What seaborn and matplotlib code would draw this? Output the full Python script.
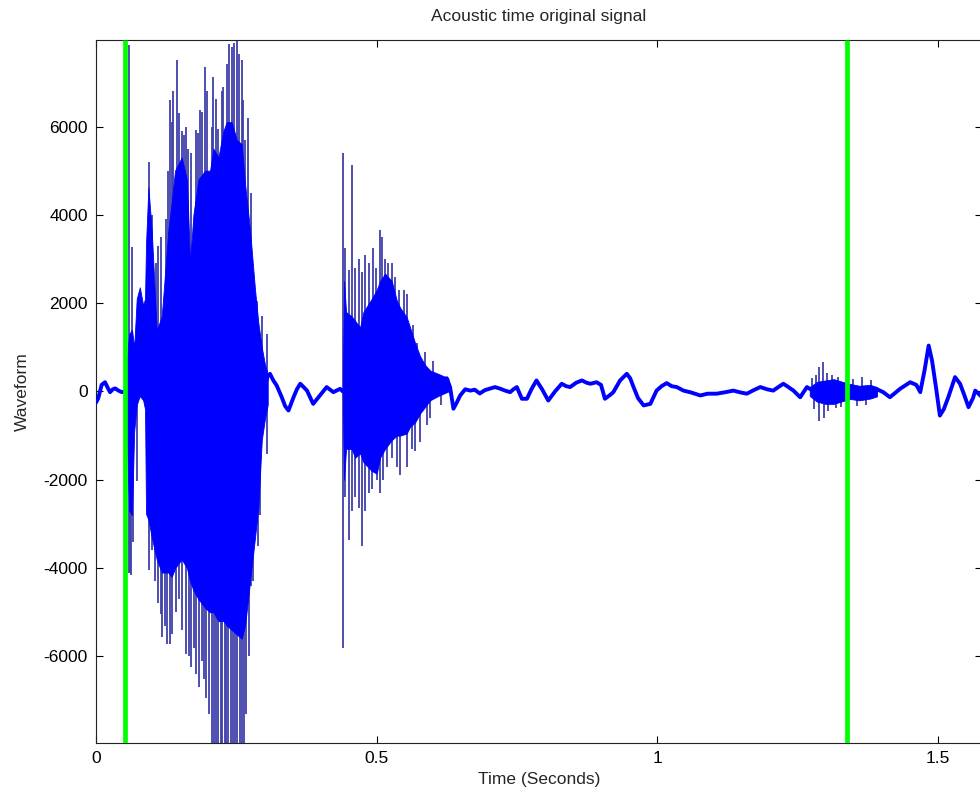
import numpy as np
import pandas as pd
import matplotlib
matplotlib.use("Agg")
import matplotlib.pyplot as plt
import seaborn as sns

# ---- low-amplitude waveform trace (seconds, amplitude) ----
trace_t = [0.000, 0.004, 0.010, 0.016, 0.021, 0.025, 0.030, 0.034, 0.040, 0.046, 0.051,
           0.100, 0.200, 0.300, 0.306, 0.310, 0.316, 0.322, 0.331, 0.337, 0.343, 0.352,
           0.358, 0.364, 0.370, 0.376, 0.387, 0.399, 0.411, 0.423, 0.435, 0.440,
           0.500, 0.600, 0.615, 0.625, 0.631, 0.637, 0.643, 0.649, 0.658, 0.667, 0.675,
           0.684, 0.693, 0.702, 0.711, 0.720, 0.729, 0.738, 0.744, 0.750, 0.759, 0.768,
           0.776, 0.785, 0.795, 0.806, 0.818, 0.830, 0.838, 0.845, 0.856, 0.866, 0.874,
           0.881, 0.892, 0.900, 0.907, 0.916, 0.922, 0.934, 0.946, 0.952, 0.958, 0.966,
           0.976, 0.988, 0.999, 1.008, 1.017, 1.026, 1.035, 1.047, 1.060, 1.077, 1.090,
           1.106, 1.120, 1.136, 1.148, 1.160, 1.172, 1.184, 1.196, 1.207, 1.216, 1.225,
           1.234, 1.243, 1.255, 1.267, 1.280, 1.300, 1.320, 1.340, 1.360, 1.380, 1.392,
           1.403, 1.415, 1.433, 1.451, 1.462, 1.469, 1.477, 1.484, 1.490, 1.497, 1.504,
           1.511, 1.519, 1.531, 1.540, 1.548, 1.555, 1.563, 1.567, 1.576, 1.580]
trace_v = [-250, -150, 150, 210, 80, -15, 50, 70, 20, -15, 0,
           0, 0, 100, 350, 400, 250, 135, -130, -330, -430, -130,
           50, 175, 100, 20, -280, -90, 100, -15, 60, 0,
           200, 200, 250, 300, 100, -390, -250, -90, 50, 20, 40,
           -45, 30, 65, 100, 65, 20, -15, 50, 100, -165, -165,
           50, 250, 50, -205, 0, 175, 120, 100, 200, 250, 200,
           175, 210, 150, -165, -80, -15, 250, 400, 300, 100, -150,
           -315, -280, 20, 120, 190, 120, 100, 20, -20, -90, -50,
           -50, -20, 20, -20, -50, 30, 100, 50, 20, 100, 175,
           100, 20, -130, 100, 0, -20, 30, 0, -30, 0, 50,
           -15, -130, 60, 210, 150, -15, 500, 1040, 700, 100, -545,
           -400, -130, 325, 175, -100, -355, -150, 20, -90, -150]

# ---- dense vowel bursts: upper / lower extent of the solid core ----
burst1_t = [0.0515, 0.053, 0.056, 0.059, 0.064, 0.068, 0.0725, 0.078, 0.084, 0.0873,
            0.0891, 0.0933, 0.0992, 0.1081, 0.1171, 0.1289, 0.1349, 0.1408, 0.1527,
            0.1620, 0.1676, 0.1735, 0.1824, 0.1943, 0.2032, 0.2092, 0.2181, 0.2270,
            0.2329, 0.2418, 0.2507, 0.2597, 0.2656, 0.2745, 0.2834, 0.2894, 0.2954,
            0.3012, 0.3060]
burst1_hi = [0, 300, 900, 1300, 1400, 1000, 2100, 2360, 1950, 2100,
             3350, 4620, 3650, 1380, 1700, 3650, 4300, 5000, 5300,
             4800, 2900, 4000, 4800, 5000, 5000, 5500, 5300, 5900,
             6100, 6100, 5700, 5600, 4700, 3650, 2300, 1540, 1000,
             600, 400]
burst1_lo = [0, -300, -1500, -2700, -2800, -900, -300, -100, -200, -400,
             -2770, -2900, -3300, -3800, -4100, -4100, -4200, -4000, -3800,
             -4000, -4300, -4500, -4700, -4900, -5000, -5000, -5200, -5200,
             -5300, -5400, -5500, -5600, -5300, -4300, -3300, -2600, -1100,
             -600, -300]

burst2_t = [0.4397, 0.4420, 0.4456, 0.4557, 0.4617, 0.4706, 0.4765, 0.4914, 0.5003,
            0.5062, 0.5152, 0.5271, 0.5360, 0.5419, 0.5538, 0.5597, 0.5686, 0.5775,
            0.5865, 0.5954, 0.6100, 0.6280]
burst2_hi = [0, 2500, 1800, 1700, 1600, 1450, 1800, 2100, 2300,
             2500, 2670, 2500, 2060, 1900, 1680, 1450, 1100, 800,
             600, 475, 400, 300]
burst2_lo = [0, -2000, -1300, -1300, -1500, -1400, -1600, -1800, -1860,
             -1500, -1300, -1100, -1000, -1000, -950, -800, -700, -500,
             -350, -200, -100, 0]

burst3_t = [1.272, 1.285, 1.300, 1.315, 1.330, 1.345, 1.360, 1.380, 1.392]
burst3_hi = [100, 220, 250, 280, 220, 170, 130, 150, 100]
burst3_lo = [-100, -230, -280, -280, -220, -170, -200, -160, -110]

# ---- isolated peaks above and below the core ----
peak_up_t = [0.0594, 0.0640, 0.0945, 0.1000, 0.1060, 0.1110, 0.1150, 0.1240, 0.1290,
             0.1320, 0.1349, 0.1380, 0.1450, 0.1486, 0.1527, 0.1560, 0.1600, 0.1640,
             0.1700, 0.1783, 0.1824, 0.1854, 0.1895, 0.1943, 0.1985, 0.2060, 0.2092,
             0.2139, 0.2181, 0.2240, 0.2270, 0.2329, 0.2377, 0.2418, 0.2460, 0.2507,
             0.2549, 0.2597, 0.2627, 0.2656, 0.2716, 0.2763, 0.2864, 0.2954, 0.3043,
             0.4397, 0.4439, 0.4516, 0.4557, 0.4617, 0.4680, 0.4736, 0.4800, 0.4870,
             0.4944, 0.4990, 0.5062, 0.5100, 0.5152, 0.5210, 0.5271, 0.5330, 0.5400,
             0.5480, 0.5538, 0.5656, 0.5720, 0.5865, 0.6000,
             1.276, 1.283, 1.288, 1.295, 1.303, 1.312, 1.322, 1.350, 1.366, 1.381]
peak_up_v = [7840, 3270, 5190, 4000, 2900, 3300, 3490, 3900, 5000,
             6590, 6100, 6800, 7500, 6300, 5900, 5800, 6000, 5500,
             5400, 5910, 5850, 6370, 6320, 7350, 6800, 6000, 7120,
             6620, 5950, 6800, 6900, 7420, 7870, 7800, 7900, 7950,
             7650, 7500, 6600, 5700, 6200, 4500, 2060, 1700, 1310,
             5390, 3260, 2740, 5120, 2800, 3000, 2700, 3100, 2900,
             3260, 2800, 3650, 3500, 3000, 2900, 2900, 2600, 2300,
             2300, 2200, 1500, 1100, 900, 700,
             300, 380, 550, 660, 420, 380, 330, 280, 320, 260]

peak_dn_t = [0.0594, 0.0600, 0.0630, 0.0660, 0.0725, 0.0945, 0.1000, 0.1050, 0.1110,
             0.1150, 0.1171, 0.1230, 0.1260, 0.1320, 0.1350, 0.1420, 0.1480, 0.1530,
             0.1600, 0.1650, 0.1700, 0.1750, 0.1790, 0.1830, 0.1880, 0.1920, 0.1960,
             0.2010, 0.2060, 0.2100, 0.2140, 0.2180, 0.2220, 0.2250, 0.2290, 0.2320,
             0.2360, 0.2400, 0.2440, 0.2480, 0.2520, 0.2560, 0.2600, 0.2630, 0.2680,
             0.2720, 0.2760, 0.2800, 0.2880, 0.2930, 0.3043,
             0.4397, 0.4439, 0.4516, 0.4557, 0.4617, 0.4680, 0.4736, 0.4800, 0.4870,
             0.4914, 0.5003, 0.5070, 0.5122, 0.5190, 0.5271, 0.5360, 0.5419, 0.5538,
             0.5627, 0.5686, 0.5775, 0.5894, 0.5954, 0.6150,
             1.280, 1.288, 1.297, 1.305, 1.318, 1.328, 1.356, 1.372]
peak_dn_v = [-4120, -4120, -4150, -3400, -2020, -4050, -3600, -4300, -4800,
             -5030, -5570, -5300, -5710, -5710, -5500, -5000, -4700, -5400,
             -5940, -6000, -6250, -5800, -6400, -6700, -6100, -6500, -6930,
             -7300, -7970, -7970, -7970, -7970, -7970, -7970, -7970, -7970,
             -7970, -7970, -7970, -7970, -7970, -7970, -7970, -7970, -7300,
             -6000, -4400, -4300, -3500, -2800, -1410,
             -5800, -2400, -3370, -2700, -2400, -2630, -3490, -2700, -2300,
             -2200, -2000, -2300, -2000, -1700, -1500, -1700, -1900, -1700,
             -1300, -1350, -1150, -750, -600, -300,
             -400, -660, -590, -450, -380, -350, -330, -300]

# ---- segment boundary markers (seconds) ----
marker_t = [0.051, 1.339]

# ---- axes ----
x_ticks = [0, 0.5, 1, 1.5]
x_tick_labels = ["0", "0.5", "1", "1.5"]
y_ticks = [-6000, -4000, -2000, 0, 2000, 4000, 6000]
y_tick_labels = ["-6000", "-4000", "-2000", "0", "2000", "4000", "6000"]
x_range = (0, 1.579)
y_range = (-7960, 7960)

sns.set_style("ticks")
plt.rcParams["font.family"] = ["Liberation Sans", "DejaVu Sans"]

WAVE = "#0000ff"

fig = plt.figure(figsize=(9.8, 8.01), dpi=100)
fig.patch.set_facecolor("white")
ax = fig.add_axes([0.098, 0.0724, 0.904, 0.8777])

# thin peaks underneath, solid core on top of them
ax.vlines(peak_up_t, 0, peak_up_v, color="#4040aa", lw=1.3, zorder=1)
ax.vlines(peak_dn_t, 0, peak_dn_v, color="#4040aa", lw=1.3, zorder=1)

for bt, bh, bl in [(burst1_t, burst1_hi, burst1_lo),
                   (burst2_t, burst2_hi, burst2_lo),
                   (burst3_t, burst3_hi, burst3_lo)]:
    ax.fill_between(bt, bl, bh, color=WAVE, lw=0.6, zorder=2)

trace = pd.DataFrame({"Time (Seconds)": trace_t, "Waveform": trace_v})
sns.lineplot(data=trace, x="Time (Seconds)", y="Waveform", ax=ax,
             color=WAVE, lw=2.8, sort=False, estimator=None, zorder=3)

ax.vlines(marker_t, y_range[0], y_range[1], color="#00ff00", lw=3.4, zorder=4)

ax.set_xlim(*x_range)
ax.set_ylim(*y_range)
ax.set_xticks(x_ticks)
ax.set_xticklabels(x_tick_labels)
ax.set_yticks(y_ticks)
ax.set_yticklabels(y_tick_labels)
ax.tick_params(direction="in", length=5, width=0.8, top=True, right=True,
               labelsize=12.5, colors="black", pad=6)
for s in ax.spines.values():
    s.set_visible(True)
    s.set_color("#222222")
    s.set_linewidth(0.8)

ax.set_xlabel("Time (Seconds)", fontsize=12.5, labelpad=4)
ax.set_ylabel("Waveform", fontsize=12.5, labelpad=10)
ax.set_title("Acoustic time original signal", fontsize=12.5, pad=14)

fig.savefig("out.png", dpi=100, facecolor="white")
